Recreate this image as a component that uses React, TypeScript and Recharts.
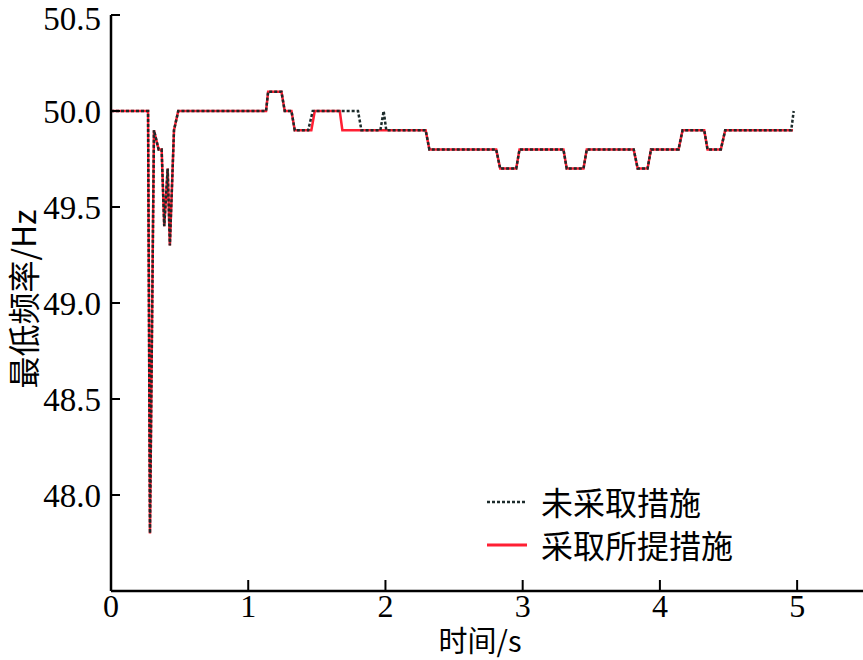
import React from 'react';
import { LineChart, Line, XAxis, YAxis, Legend } from 'recharts';

// 未采取措施 (no measures) — dotted
const noMeasureTime = [
  0, 0.27, 0.284, 0.313, 0.347, 0.369, 0.388, 0.413, 0.429, 0.459, 0.49,
  1.13, 1.145, 1.242, 1.266, 1.315, 1.339, 1.437, 1.47, 1.8, 1.825,
  1.963, 1.987, 2.006, 2.293, 2.32, 2.807, 2.836, 2.953, 2.977,
  3.297, 3.321, 3.443, 3.467, 3.809, 3.838, 3.91, 3.935,
  4.136, 4.165, 4.323, 4.347, 4.444, 4.476, 4.957, 4.975,
];
const noMeasureFreq = [
  50, 50, 47.8, 49.9, 49.8, 49.8, 49.4, 49.7, 49.3, 49.9, 50,
  50, 50.1, 50.1, 50, 50, 49.9, 49.9, 50, 50, 49.9,
  49.9, 50, 49.9, 49.9, 49.8, 49.8, 49.7, 49.7, 49.8,
  49.8, 49.7, 49.7, 49.8, 49.8, 49.7, 49.7, 49.8,
  49.8, 49.9, 49.9, 49.8, 49.8, 49.9, 49.9, 50,
];

// 采取所提措施 (with proposed measures) — solid red
const measureTime = [
  0, 0.27, 0.284, 0.313, 0.347, 0.369, 0.388, 0.413, 0.429, 0.459, 0.49,
  1.13, 1.145, 1.242, 1.266, 1.315, 1.339, 1.46, 1.485, 1.667, 1.686,
  2.293, 2.32, 2.807, 2.836, 2.953, 2.977,
  3.297, 3.321, 3.443, 3.467, 3.809, 3.838, 3.91, 3.935,
  4.136, 4.165, 4.323, 4.347, 4.444, 4.476, 4.97,
];
const measureFreq = [
  50, 50, 47.8, 49.9, 49.8, 49.8, 49.4, 49.7, 49.3, 49.9, 50,
  50, 50.1, 50.1, 50, 50, 49.9, 49.9, 50, 50, 49.9,
  49.9, 49.8, 49.8, 49.7, 49.7, 49.8,
  49.8, 49.7, 49.7, 49.8, 49.8, 49.7, 49.7, 49.8,
  49.8, 49.9, 49.9, 49.8, 49.8, 49.9, 49.9,
];

const xTicks = [0, 1, 2, 3, 4, 5];
const yTicks = [48.0, 48.5, 49.0, 49.5, 50.0, 50.5];

const seriesNames = ['未采取措施', '采取所提措施'];

const noMeasureData = noMeasureTime.map((t, i) => ({ t, f: noMeasureFreq[i] }));
const measureData = measureTime.map((t, i) => ({ t, f: measureFreq[i] }));

const DOT_COLOR = '#1c2b2b';
const RED = '#ff1f33';
const numFont = '"Liberation Serif", "Times New Roman", serif';
const cjkFont = '"Noto Sans CJK SC", "Liberation Serif", serif';

const LegendBox = () => (
  <div style={{ fontFamily: cjkFont, fontSize: 32, color: '#000', lineHeight: '43px' }}>
    <div style={{ display: 'flex', alignItems: 'center' }}>
      <svg width={54} height={10}>
        <line x1={0} y1={5} x2={40} y2={5} stroke={DOT_COLOR} strokeWidth={2.5} strokeDasharray="3 2" />
      </svg>
      <span>{seriesNames[0]}</span>
    </div>
    <div style={{ display: 'flex', alignItems: 'center' }}>
      <svg width={54} height={10}>
        <line x1={0} y1={5} x2={40} y2={5} stroke={RED} strokeWidth={3} />
      </svg>
      <span>{seriesNames[1]}</span>
    </div>
  </div>
);

export default function App() {
  return (
    <div style={{ position: 'absolute', left: 0, top: 0, width: 863, height: 660, background: '#fff' }}>
      <LineChart width={863} height={660} margin={{ top: 15, right: 0, left: 51, bottom: 39 }}>
        <XAxis
          type="number"
          dataKey="t"
          domain={[0, 5.48]}
          ticks={xTicks}
          allowDataOverflow
          height={30}
          tickSize={-11}
          tickMargin={14}
          axisLine={{ stroke: '#000', strokeWidth: 2.5 }}
          tickLine={{ stroke: '#000', strokeWidth: 2 }}
          tick={{ fontSize: 32, fill: '#000', fontFamily: numFont }}
          label={() => (
            <text x={480} y={639} textAnchor="middle" dominantBaseline="central" fontSize={29} fontFamily={cjkFont} fill="#000">
              时间/s
            </text>
          )}
        />
        <YAxis
          type="number"
          dataKey="f"
          domain={[47.5, 50.5]}
          ticks={yTicks}
          allowDataOverflow
          width={60}
          tickSize={-9}
          tickMargin={19}
          tickFormatter={(v: number) => v.toFixed(1)}
          axisLine={{ stroke: '#000', strokeWidth: 2.5 }}
          tickLine={{ stroke: '#000', strokeWidth: 2 }}
          tick={{ fontSize: 33, fill: '#000', fontFamily: numFont }}
          label={() => (
            <text
              x={22}
              y={299}
              transform="rotate(-90 22 299)"
              textAnchor="middle"
              dominantBaseline="central"
              fontSize={32}
              fontFamily={cjkFont}
              fill="#000"
            >
              最低频率/Hz
            </text>
          )}
        />
        <Legend
          layout="horizontal"
          verticalAlign="middle"
          align="center"
          content={<LegendBox />}
          wrapperStyle={{ position: 'absolute', left: 487, top: 480, width: 300 }}
        />
        <Line
          data={measureData}
          dataKey="f"
          name={seriesNames[1]}
          type="linear"
          stroke={RED}
          strokeWidth={2.5}
          dot={false}
          isAnimationActive={false}
        />
        <Line
          data={noMeasureData}
          dataKey="f"
          name={seriesNames[0]}
          type="linear"
          stroke={DOT_COLOR}
          strokeWidth={2.5}
          strokeDasharray="3 2"
          dot={false}
          isAnimationActive={false}
        />
      </LineChart>
    </div>
  );
}
